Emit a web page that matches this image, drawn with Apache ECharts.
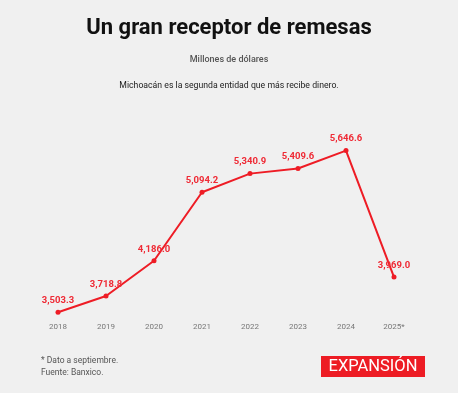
<!DOCTYPE html>
<html><head><meta charset="utf-8">
<script src="https://cdn.jsdelivr.net/npm/echarts@6/dist/echarts.min.js"></script>
<style>html,body{margin:0;padding:0;background:#f0f0f0;}#c{width:458px;height:393px;}</style>
</head><body><div id="c"></div>
<script>
const years = ['2018','2019','2020','2021','2022','2023','2024','2025*'];
const remesas = [3503.3, 3718.8, 4186.0, 5094.2, 5340.9, 5409.6, 5646.6, 3969.0];
const titleText = 'Un gran receptor de remesas';
const unitText = 'Millones de dólares';
const subText = 'Michoacán es la segunda entidad que más recibe dinero.';
const notes = ['* Dato a septiembre.', 'Fuente: Banxico.'];

const red = '#ee1c25';
const chart = echarts.init(document.getElementById('c'));
const fmt = v => v.toLocaleString('en-US', {minimumFractionDigits:1, maximumFractionDigits:1});
chart.setOption({
  backgroundColor: '#f0f0f0',
  animation: false,
  textStyle: {fontFamily: 'Roboto'},
  title: [
    {text: titleText, left: 'center', top: 12, textStyle: {fontSize: 22, fontWeight: 'bold', color: '#111', fontFamily: 'Roboto'}},
    {text: unitText, left: 'center', top: 50, textStyle: {fontSize: 9, fontWeight: 500, color: '#555', fontFamily: 'Roboto'}},
    {text: subText, left: 'center', top: 76, textStyle: {fontSize: 8.7, fontWeight: 'normal', color: '#222', fontFamily: 'Roboto'}}
  ],
  grid: {left: 34, right: 40, top: 139, bottom: 73},
  xAxis: {
    type: 'category', data: years, boundaryGap: true,
    axisLine: {show: false}, axisTick: {show: false},
    axisLabel: {color: '#777', fontSize: 8, margin: 3}
  },
  yAxis: {
    type: 'value', min: 3400, max: 5800, show: false, splitLine: {show: false}
  },
  series: [{
    type: 'line', data: remesas,
    lineStyle: {color: red, width: 2},
    itemStyle: {color: red},
    symbol: 'circle', symbolSize: 5,
    label: {show: true, position: 'top', distance: 4, color: '#ef2a35', fontSize: 9.5, fontWeight: 'bold',
      formatter: p => fmt(p.value)}
  }],
  graphic: [
    {type: 'text', left: 41, top: 355, style: {text: notes.join('\n'), fill: '#555', fontSize: 8.5, lineHeight: 12, fontFamily: 'Roboto'}},
    {type: 'rect', shape: {x: 321, y: 356, width: 104, height: 21}, style: {fill: '#ed1c24'}},
    {type: 'text', x: 373, y: 367, style: {text: 'EXPANSIÓN', fill: '#fff', fontSize: 16.5, fontFamily: 'Roboto', fontWeight: 'normal', align: 'center', verticalAlign: 'middle'}}
  ]
});
</script></body></html>
